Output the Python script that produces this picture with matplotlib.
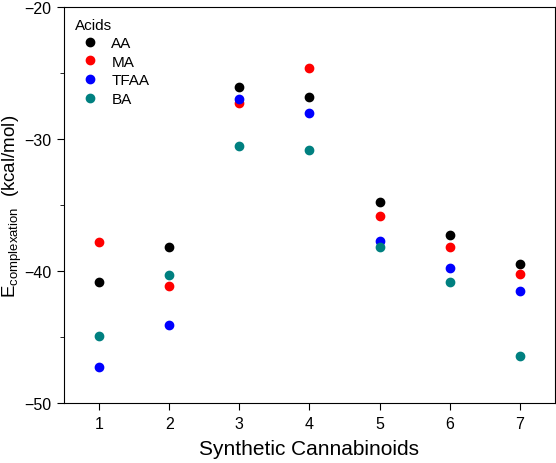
import numpy as np
import matplotlib
matplotlib.use('Agg')
import matplotlib.pyplot as plt
from matplotlib.ticker import MultipleLocator

plt.rcParams['font.family'] = ['Liberation Sans', 'DejaVu Sans']
plt.rcParams['mathtext.fontset'] = 'custom'
plt.rcParams['mathtext.rm'] = 'Liberation Sans'

# Data (kcal/mol)
cannabinoids = [1, 2, 3, 4, 5, 6, 7]
aa = [-40.8, -38.2, -26.1, -26.8, -34.8, -37.3, -39.5]
ma = [-37.8, -41.1, -27.3, -24.6, -35.8, -38.2, -40.2]
tfaa = [-47.3, -44.1, -27.0, -28.0, -37.7, -39.8, -41.5]
ba = [-44.9, -40.3, -30.5, -30.8, -38.2, -40.8, -46.4]

series = [('AA', aa, 'black'), ('MA', ma, '#ff0000'),
          ('TFAA', tfaa, '#0000ff'), ('BA', ba, '#008080')]

fig = plt.figure(figsize=(5.56, 4.64), dpi=100)
ax = fig.add_axes([0.115, 0.129, 0.883, 0.854])

for name, vals, col in series:
    ax.plot(cannabinoids, vals, 'o', color=col, markersize=6, label=name)

ax.set_xlim(0.5, 7.5)
ax.set_ylim(-50, -20)
ax.set_xticks(cannabinoids)
ax.set_yticks([-50, -40, -30, -20])
ax.yaxis.set_minor_locator(MultipleLocator(5))
ax.tick_params(which='major', direction='out', length=5, labelsize=11.5,
               pad=4)
ax.tick_params(which='minor', direction='out', length=3)
ax.set_xlabel('Synthetic Cannabinoids', fontsize=15, labelpad=6)
ax.set_ylabel(r'E$_{\mathrm{complexation}}$  (kcal/mol)', fontsize=13.5)
ax.yaxis.set_label_coords(-0.082, 0.5)

leg = ax.legend(title='Acids', loc='upper left', frameon=False, fontsize=11,
                title_fontsize=11, handletextpad=0.4, borderaxespad=0.3,
                labelspacing=0.3, alignment='left')

fig.savefig('out.png', dpi=100)
